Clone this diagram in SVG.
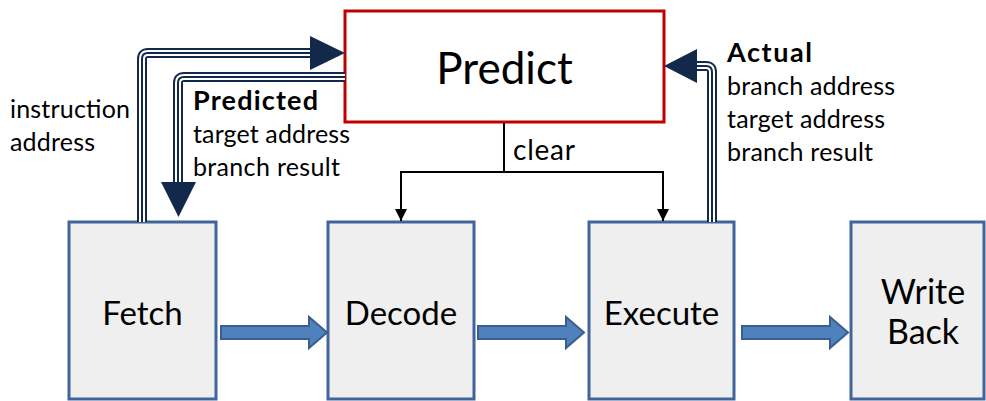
<svg xmlns="http://www.w3.org/2000/svg" width="986" height="401" viewBox="0 0 986 401">
  <style>
    .stage { fill: #EFEFEF; stroke: #41659A; stroke-width: 3; }
    .pred { fill: #FFFFFF; stroke: #C00000; stroke-width: 3; }
    .big { font-family: Lato, "Liberation Sans", sans-serif; fill: #000; }
    .lbl { font-family: Lato, "Liberation Sans", sans-serif; font-size: 25px; fill: #000; }
    .bold { font-weight: bold; font-size: 27px; }
    .clear-lbl { font-size: 28px; }
    .bus-outer { fill: none; stroke: #13294B; stroke-width: 10; }
    .bus-gap { fill: none; stroke: #FFFFFF; stroke-width: 6; }
    .bus-core { fill: none; stroke: #13294B; stroke-width: 2; }
    .head { fill: #13294B; }
    .flow { fill: #4F81BD; stroke: #3A5F8E; stroke-width: 2; }
    .clr { fill: none; stroke: #000; stroke-width: 2; }
  </style>
  <defs>
    <marker id="tri" viewBox="0 0 10 10" refX="10" refY="5" markerWidth="6" markerHeight="6" markerUnits="strokeWidth" orient="auto">
      <path d="M0,0 L10,5 L0,10 z" fill="#000"/>
    </marker>
    <path id="flowArrow" d="M0,-6.5 H88 V-15.5 L106,0 L88,15.5 V6.5 H0 Z"/>
    <path id="bus1" d="M142,222 V59 Q142,53 148,53 H312"/>
    <path id="bus2" d="M345,77 H184 Q178,77 178,83 V184"/>
    <path id="bus3" d="M712,222 V72 Q712,66 706,66 H695"/>
  </defs>

  <!-- pipeline stages -->
  <g id="fetch">
    <rect class="stage" x="69" y="222" width="147" height="177"/>
    <text class="big" x="142.5" y="325" font-size="33" text-anchor="middle">Fetch</text>
  </g>
  <g id="decode">
    <rect class="stage" x="328" y="222" width="146" height="177"/>
    <text class="big" x="401" y="325" font-size="33" text-anchor="middle">Decode</text>
  </g>
  <g id="execute">
    <rect class="stage" x="589" y="222" width="145" height="177"/>
    <text class="big" x="661.5" y="325" font-size="33" text-anchor="middle">Execute</text>
  </g>
  <g id="writeback">
    <rect class="stage" x="851" y="222" width="133" height="177"/>
    <text class="big" x="923" y="304" font-size="34" text-anchor="middle">Write</text>
    <text class="big" x="923" y="344" font-size="34" text-anchor="middle">Back</text>
  </g>
  <g id="predict">
    <rect class="pred" x="345" y="11" width="319" height="111"/>
    <text class="big" x="504.5" y="84" font-size="44" text-anchor="middle">Predict</text>
  </g>

  <!-- connectors -->
  <g id="connectors">
    <!-- stage-to-stage flow -->
    <use href="#flowArrow" class="flow" transform="translate(221,332.5)"/>
    <use href="#flowArrow" class="flow" transform="translate(478,332.5)"/>
    <use href="#flowArrow" class="flow" transform="translate(742,332.5)"/>

    <!-- address / prediction buses -->
    <use href="#bus1" class="bus-outer"/>
    <use href="#bus1" class="bus-gap"/>
    <use href="#bus1" class="bus-core"/>
    <polygon class="head" points="310,36 345,53 310,70"/>

    <use href="#bus2" class="bus-outer"/>
    <use href="#bus2" class="bus-gap"/>
    <use href="#bus2" class="bus-core"/>
    <polygon class="head" points="161,182 196,182 178.5,217"/>

    <use href="#bus3" class="bus-outer"/>
    <use href="#bus3" class="bus-gap"/>
    <use href="#bus3" class="bus-core"/>
    <polygon class="head" points="697,49 664,66 697,83"/>

    <!-- clear signal -->
    <path class="clr" d="M504,123 V172"/>
    <path class="clr" d="M504,172 H401 V221" marker-end="url(#tri)"/>
    <path class="clr" d="M504,172 H663 V221" marker-end="url(#tri)"/>
    <text class="lbl clear-lbl" x="513" y="160" textLength="62">clear</text>
  </g>

  <!-- bus labels -->
  <g id="labels">
    <text class="lbl" x="10" y="118" textLength="120">instruction</text>
    <text class="lbl" x="10" y="151" textLength="85">address</text>
    <text class="lbl bold" x="193" y="110" textLength="125">Predicted</text>
    <text class="lbl" x="193" y="143" textLength="157">target address</text>
    <text class="lbl" x="193" y="176" textLength="147">branch result</text>
    <text class="lbl bold" x="727" y="62" textLength="85">Actual</text>
    <text class="lbl" x="727" y="95" textLength="168">branch address</text>
    <text class="lbl" x="727" y="128" textLength="158">target address</text>
    <text class="lbl" x="727" y="161" textLength="146">branch result</text>
  </g>
</svg>
